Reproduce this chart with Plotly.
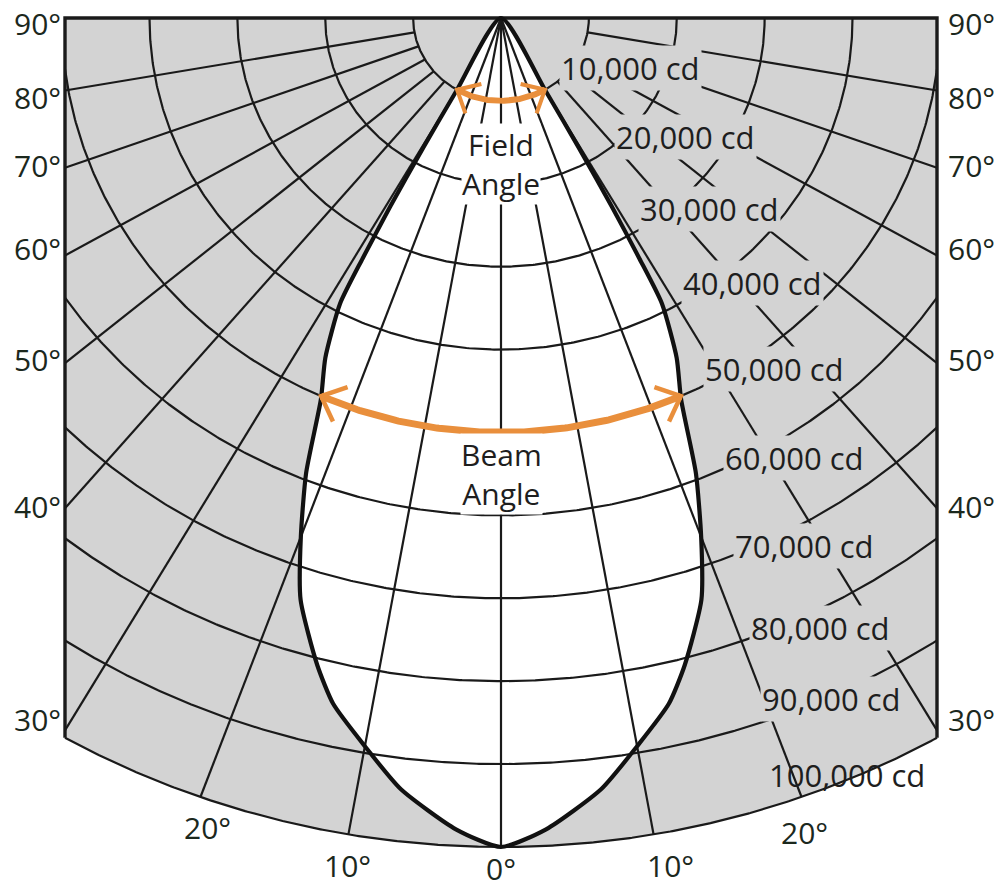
import numpy as np
import plotly.graph_objects as go

# ---------------- data ----------------
beam_angles_deg = [0, 3, 7, 10, 13, 15, 18, 20, 22, 24, 26, 28, 28.5, 29, 29.5, 30, 30.3]
beam_candela = [100000, 98000, 93700, 89200, 84900, 80800, 73800, 66600, 59200,
                50400, 45600, 39000, 33000, 26000, 18000, 10000, 0]
ring_candela = [10000, 20000, 30000, 40000, 50000, 60000, 70000, 80000, 90000, 100000]
ring_labels = ["10,000 cd", "20,000 cd", "30,000 cd", "40,000 cd", "50,000 cd",
               "60,000 cd", "70,000 cd", "80,000 cd", "90,000 cd", "100,000 cd"]
radial_angles_deg = [0, 10, 20, 30, 40, 50, 60, 70, 80]
side_angle_labels = ["90°", "80°", "70°", "60°", "50°", "40°", "30°"]
bottom_angle_labels = ["20°", "10°", "0°", "10°", "20°"]
beam_label = "Beam<br>Angle"
field_label = "Field<br>Angle"

# ---------------- geometry / scales ----------------
FIG_W, FIG_H = 1003, 892
APEX_PX = (501, 18)
KY = 829 / 100000.0          # px per cd (vertical)
KX = KY * 1.06               # px per cd (horizontal)
FRAME_LEFT_PX = 65
W = (APEX_PX[0] - FRAME_LEFT_PX) / KX   # half width of the frame in cd units
RMAX = max(ring_candela)
IMAX = max(beam_candela)

GRAY = "#d3d3d3"
INK = "#1a1a1a"
ORANGE = "#e98f3c"
TEXT = "#1e1e1e"
DEG_TEXT = "#1b281d"
FONT = "Open Sans"


def polar(r, th_deg):
    th = np.radians(th_deg)
    return np.asarray(r) * np.sin(th), -np.asarray(r) * np.cos(th)


def to_px(x, y):
    return APEX_PX[0] + x * KX, APEX_PX[1] - y * KY


def to_data(px, py):
    return (px - APEX_PX[0]) / KX, (APEX_PX[1] - py) / KY


def px2paper(px, py):
    return px / FIG_W, 1 - py / FIG_H


fig = go.Figure()

# gray field (frame minus outside of the outer ring)
theta_c = np.degrees(np.arcsin(W / RMAX))
arc_t = np.linspace(theta_c, -theta_c, 200)
ax_, ay_ = polar(RMAX, arc_t)
yc = ay_[0]
gx = np.concatenate([[-W, W], ax_, [-W, -W]])
gy = np.concatenate([[0, 0], ay_, [yc, 0]])
fig.add_trace(go.Scatter(x=gx, y=gy, mode="lines", fill="toself", fillcolor=GRAY,
                         line=dict(width=0, color=GRAY), hoverinfo="skip"))

# beam (candela distribution) – closed curve
ang = np.array(beam_angles_deg, dtype=float)
cd = np.array(beam_candela, dtype=float)
full_ang = np.concatenate([-ang[::-1], ang[1:]])
full_cd = np.concatenate([cd[::-1], cd[1:]])
bx, by = polar(full_cd, full_ang)
fig.add_trace(go.Scatter(x=bx, y=by, mode="lines", fill="toself", fillcolor="white",
                         line=dict(width=0, color="white", shape="spline", smoothing=0.6),
                         hoverinfo="skip"))

# rings
for r in ring_candela:
    if r <= W:
        tmax = 90.0
    else:
        tmax = np.degrees(np.arcsin(W / r))
    t = np.linspace(-tmax, tmax, 400)
    x, y = polar(r, t)
    fig.add_trace(go.Scatter(x=x, y=y, mode="lines", line=dict(color=INK, width=2.2),
                             hoverinfo="skip"))

# radial lines
for a in radial_angles_deg:
    for s in ([1] if a == 0 else [1, -1]):
        th = s * a
        r0 = 0 if a < 30 else ring_candela[0]
        sa = abs(np.sin(np.radians(th)))
        r1 = RMAX if sa < 1e-9 else min(RMAX, W / sa)
        x, y = polar([r0, r1], [th, th])
        fig.add_trace(go.Scatter(x=x, y=y, mode="lines", line=dict(color=INK, width=2.2),
                                 hoverinfo="skip"))

# frame
fig.add_trace(go.Scatter(x=[-W, -W, W, W], y=[yc, 0, 0, yc], mode="lines",
                         line=dict(color=INK, width=3.4), hoverinfo="skip"))

# beam outline
fig.add_trace(go.Scatter(x=bx, y=by, mode="lines",
                         line=dict(width=4.2, color="#111111", shape="spline", smoothing=0.6),
                         hoverinfo="skip"))

# orange arrows (beam angle at 50 %, field angle at 10 %)
cd_inc = cd[::-1]
ang_inc = ang[::-1]


def arrow(frac, arc_w, head_w, head_len):
    level = frac * IMAX
    half = float(np.interp(level, cd_inc, ang_inc))
    t = np.linspace(-half, half, 200)
    x, y = polar(level, t)
    fig.add_trace(go.Scatter(x=x, y=y, mode="lines", line=dict(color=ORANGE, width=arc_w),
                             hoverinfo="skip"))
    for tip in (-half, half):
        s = np.sign(tip)
        tr = np.radians(tip)
        tx, ty = polar(level, tip)
        px, py = to_px(tx, ty)
        b = np.array([-s * np.cos(tr) * KX, s * np.sin(tr) * KY])
        b = b / np.linalg.norm(b)
        pts = []
        for rot in (42, -42):
            rr = np.radians(rot)
            d = np.array([b[0] * np.cos(rr) - b[1] * np.sin(rr),
                          b[0] * np.sin(rr) + b[1] * np.cos(rr)])
            pts.append((px + d[0] * head_len, py + d[1] * head_len))
        hx, hy = [], []
        for (qx, qy) in [pts[0], (px, py), pts[1]]:
            dx, dy = to_data(qx, qy)
            hx.append(dx)
            hy.append(dy)
        fig.add_trace(go.Scatter(x=hx, y=hy, mode="lines",
                                 line=dict(color=ORANGE, width=head_w), hoverinfo="skip"))


arrow(0.5, 7, 4.5, 28)
arrow(0.1, 6, 4, 25)

# ---------------- text ----------------
annotations = []

ring_label_px = [(630, 68), (685, 137), (709, 209), (752, 283), (774, 369),
                 (794, 458), (804, 546), (820, 628), (831, 699), (847, 775)]
for i, (txt, (lx, ly)) in enumerate(zip(ring_labels, ring_label_px)):
    px_, py_ = px2paper(lx, ly)
    annotations.append(dict(x=px_, y=py_, xref="paper", yref="paper", text=txt,
                            showarrow=False, xanchor="center", yanchor="middle",
                            font=dict(family=FONT, size=31, color=TEXT),
                            bgcolor=(GRAY if i < len(ring_labels) - 1 else "rgba(0,0,0,0)"),
                            borderpad=1))

side_y_px = [23, 98, 166, 249, 359, 506, 719]
for txt, sy in zip(side_angle_labels, side_y_px):
    for sx in (37, 971):
        px_, py_ = px2paper(sx, sy)
        annotations.append(dict(x=px_, y=py_, xref="paper", yref="paper", text=txt,
                                showarrow=False, xanchor="center", yanchor="middle",
                                font=dict(family=FONT, size=30, color=DEG_TEXT)))

bottom_px = [(207, 827), (347, 865), (501, 868), (670, 865), (804, 832)]
for txt, (bx_, by_) in zip(bottom_angle_labels, bottom_px):
    px_, py_ = px2paper(bx_, by_)
    annotations.append(dict(x=px_, y=py_, xref="paper", yref="paper", text=txt,
                            showarrow=False, xanchor="center", yanchor="middle",
                            font=dict(family=FONT, size=30, color=DEG_TEXT)))

for txt, (cx, cy) in [(field_label, (501, 164)), (beam_label, (501, 474))]:
    px_, py_ = px2paper(cx, cy)
    annotations.append(dict(x=px_, y=py_, xref="paper", yref="paper", text=txt,
                            showarrow=False, xanchor="center", yanchor="middle",
                            font=dict(family=FONT, size=30, color=TEXT),
                            bgcolor="white", borderpad=0))

x_range = [-APEX_PX[0] / KX, (FIG_W - APEX_PX[0]) / KX]
y_range = [-(FIG_H - APEX_PX[1]) / KY, APEX_PX[1] / KY]

fig.update_layout(
    width=FIG_W, height=FIG_H,
    margin=dict(l=0, r=0, t=0, b=0),
    paper_bgcolor="white", plot_bgcolor="white",
    showlegend=False,
    xaxis=dict(range=x_range, visible=False, fixedrange=True),
    yaxis=dict(range=y_range, visible=False, fixedrange=True),
    annotations=annotations,
)

fig.write_html("out.html",
               config={"displayModeBar": False},
               post_script="document.body.style.margin='0px';"
                           "document.body.style.overflow='hidden';")
